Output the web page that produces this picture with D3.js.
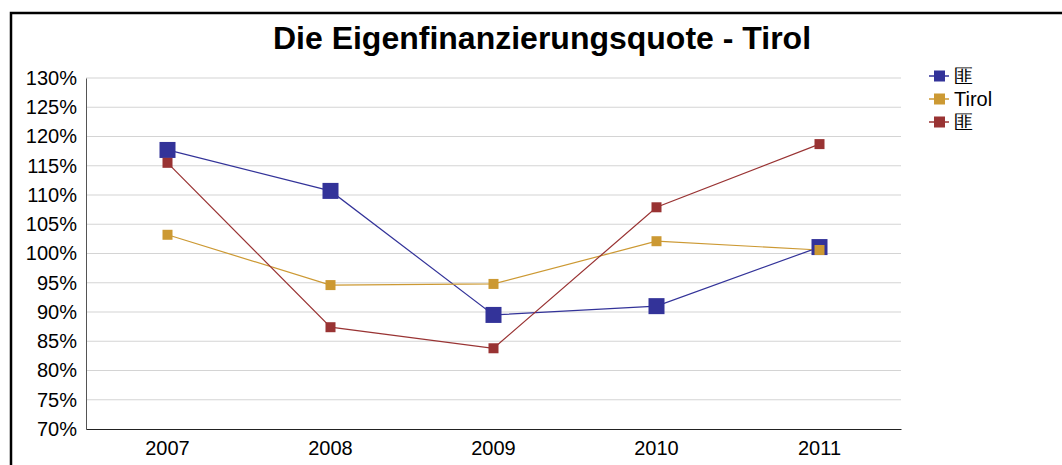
<!DOCTYPE html>
<html><head><meta charset="utf-8">
<script src="https://cdn.jsdelivr.net/npm/d3@7"></script>
<style>body{margin:0;background:#fff;}svg{display:block;font-family:"Liberation Sans",Arial,sans-serif;}</style>
</head><body><svg id="c" width="1062" height="465"></svg>
<script>
const years = ["2007","2008","2009","2010","2011"];
const seriesNames = ["匪","Tirol","匪"];
const seriesColors = ["#333399","#cc9933","#993333"];
const blueValues = [117.7, 110.7, 89.5, 91.0, 101.1];
const tirolValues = [103.2, 94.6, 94.8, 102.1, 100.6];
const redValues = [115.5, 87.4, 83.8, 107.9, 118.7];
const yTicks = [70,75,80,85,90,95,100,105,110,115,120,125,130];
const markerSizes = [16, 10, 10];

const svg = d3.select("#c");
svg.append("rect").attr("x",11).attr("y",13).attr("width",1060).attr("height",460)
  .attr("fill","none").attr("stroke","#000").attr("stroke-width",2.5);

svg.append("text").attr("x",542).attr("y",49).attr("text-anchor","middle")
  .attr("font-size",32).attr("font-weight","bold").text("Die Eigenfinanzierungsquote - Tirol");

const m = {l:86, r:901, t:78, b:429};
const x = d3.scaleBand().domain(years).range([m.l, m.r]);
const y = d3.scaleLinear().domain([70,130]).range([m.b, m.t]);

svg.append("g").selectAll("line").data(yTicks.slice(1)).join("line")
  .attr("x1",m.l).attr("x2",m.r).attr("y1",d=>y(d)).attr("y2",d=>y(d))
  .attr("stroke","#d4d4d4").attr("stroke-width",1.2);

const ya = svg.append("g").attr("transform",`translate(${m.l},0)`)
  .call(d3.axisLeft(y).tickValues(yTicks).tickSize(0).tickPadding(9).tickFormat(d=>d+"%"));
ya.select(".domain").attr("stroke","#555");
ya.selectAll("text").attr("font-size",20).attr("fill","#000").attr("font-family","Liberation Sans, Arial, sans-serif");

const xa = svg.append("g").attr("transform",`translate(0,${m.b})`)
  .call(d3.axisBottom(x).tickSize(0).tickPadding(12));
xa.select(".domain").attr("stroke","#222");
xa.selectAll("text").attr("font-size",20).attr("fill","#000").attr("font-family","Liberation Sans, Arial, sans-serif");

const all = [blueValues, tirolValues, redValues];
const line = d3.line().x((d,i)=>x(years[i])+x.bandwidth()/2).y(d=>y(d));
all.forEach((vals,si)=>{
  svg.append("path").datum(vals).attr("d",line).attr("fill","none")
    .attr("stroke",seriesColors[si]).attr("stroke-width",1.2);
});
all.forEach((vals,si)=>{
  const s = markerSizes[si];
  svg.append("g").selectAll("rect").data(vals).join("rect")
    .attr("x",(d,i)=>x(years[i])+x.bandwidth()/2-s/2).attr("y",d=>y(d)-s/2)
    .attr("width",s).attr("height",s).attr("fill",seriesColors[si]);
});

const lg = svg.append("g");
seriesNames.forEach((n,i)=>{
  const cy = 76 + i*23;
  lg.append("line").attr("x1",929).attr("x2",949).attr("y1",cy).attr("y2",cy)
    .attr("stroke",seriesColors[i]).attr("stroke-width",1.5);
  lg.append("rect").attr("x",934).attr("y",cy-5.5).attr("width",11).attr("height",11).attr("fill",seriesColors[i]);
  lg.append("text").attr("x",954).attr("y",cy+7).attr("font-size",20).text(n);
});
</script></body></html>
